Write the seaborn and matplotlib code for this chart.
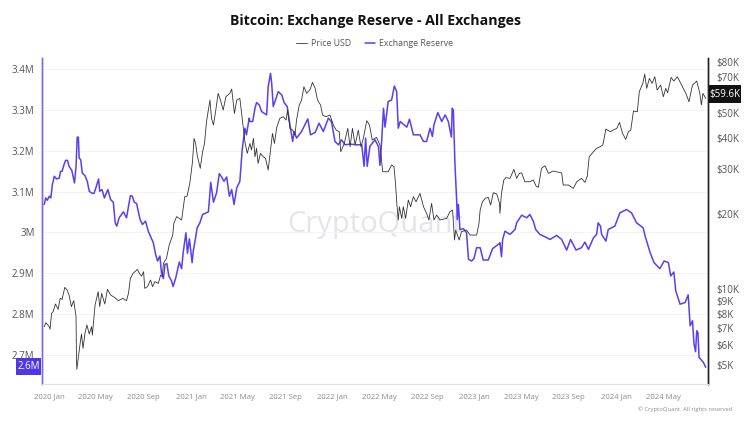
import pandas as pd
import seaborn as sns
import matplotlib.pyplot as plt
import matplotlib.dates as mdates
from matplotlib.patches import Rectangle

# days since 2020-01-01 and reserve in millions of BTC
reserve_days = [-12, -8, -4, 1, 5, 9, 14, 20, 27, 30, 34, 39, 43, 48, 52, 59, 66, 70, 73, 76, 78, 82, 86, 93, 99, 104, 110, 116, 121, 128, 131, 137, 143, 152, 159, 166, 171, 175, 181, 192, 200, 210, 215, 220, 226, 235, 241, 249,
                256, 269, 275, 280, 286, 290, 295, 299, 304, 309, 316, 320, 327, 336, 342, 346, 353, 357, 362, 369, 372, 378, 382,
                389, 396, 411, 417, 424, 432, 439, 445, 451, 458, 465, 471, 477, 484, 492, 498, 505, 509, 516,
                518, 525, 531, 535, 542, 548, 561, 565, 571, 574, 578, 591, 600, 606, 614, 621, 628, 632, 638, 651, 667, 674, 686, 696, 707, 720, 728, 737, 746, 754, 763, 776, 793, 806, 812, 816, 820, 827, 840, 849, 853, 857, 862, 866, 874, 883, 890, 896, 900, 905, 922, 929, 939, 956, 965, 973, 982, 988, 992, 1002, 1012, 1021, 1029, 1037, 1039, 1042, 1046, 1051, 1052, 1055, 1059,
                1068, 1076, 1081, 1089, 1095, 1102, 1111, 1119, 1132, 1143, 1161, 1162, 1166, 1169, 1175, 1188, 1201, 1205, 1218, 1231, 1239, 1248, 1254,
                1265, 1278, 1291, 1308, 1321, 1334, 1344, 1358, 1372, 1381, 1390, 1403, 1411, 1415, 1421, 1424, 1435, 1441, 1458, 1471, 1488, 1501, 1514, 1531,
                1536, 1549, 1559, 1574, 1585, 1596, 1602, 1610, 1615, 1626, 1639, 1647, 1652, 1658, 1662, 1666, 1669, 1672, 1675, 1686, 1692]
reserve_m = [3.0683, 3.0845, 3.0788, 3.0886, 3.0845, 3.1170, 3.1374, 3.1309, 3.1333, 3.1496, 3.1496, 3.1658, 3.1764, 3.1764, 3.1618, 3.1520, 3.1211, 3.1618, 3.2333, 3.2333, 3.1821, 3.1780, 3.1455, 3.1390, 3.1252, 3.1008, 3.0967, 3.0951, 3.1089, 3.1309, 3.1008, 3.1049, 3.0845, 3.1049, 3.0805, 3.0740, 3.0235, 3.0154, 3.0358, 3.0504, 3.0358, 3.0902, 3.0886, 3.0740, 3.0707, 3.0317, 3.0195, 3.0276,
             3.0032, 2.9748, 2.9463, 2.9301, 2.9423, 2.9016, 2.8870, 2.9219, 2.9236, 2.8935, 2.8813, 2.8675, 2.8894, 2.9276, 2.9114, 2.9504, 2.9992, 2.9488, 2.9845, 2.9260, 2.9545, 2.9870, 3.0114,
             3.0235, 3.0439, 3.0504, 3.1228, 3.0740, 3.0967, 3.1439, 3.1358, 3.1252, 3.1358, 3.0886, 3.1049, 3.0683, 3.1089, 3.1252, 3.2024, 3.2552, 3.2390, 3.2796,
             3.2715, 3.2715, 3.3040, 3.3179, 3.3122, 3.2959, 3.2878, 3.3569, 3.3894, 3.3650, 3.3081, 3.3447, 3.3366, 3.3179, 3.3081, 3.2634, 3.2227, 3.2471, 3.2309, 3.2471, 3.2780, 3.2390, 3.2447, 3.2674, 3.2471, 3.2796, 3.2715, 3.2227, 3.2146, 3.2268, 3.2146, 3.2162, 3.2146, 3.2146, 3.1618, 3.2309, 3.1618, 3.2105, 3.2268, 3.2105, 3.1642, 3.2187, 3.3040, 3.2577, 3.3203, 3.3244, 3.3585, 3.3447, 3.2552, 3.2715, 3.2577, 3.2772, 3.2390, 3.2390, 3.2227, 3.2227, 3.2552, 3.2349, 3.2634, 3.2935, 3.2715, 3.2878, 3.2715, 3.2333, 3.3040, 3.3000, 3.1699, 3.0683, 3.0317, 3.0683, 3.0073,
             3.0090, 2.9992, 2.9342, 2.9301, 2.9358, 2.9626, 2.9626, 2.9325, 2.9325, 2.9602, 2.9732, 2.9748, 2.9406, 2.9829, 3.0032, 2.9951, 3.0073, 3.0235, 3.0422, 3.0358, 3.0439, 3.0276, 3.0073,
             2.9951, 2.9894, 2.9829, 2.9927, 2.9829, 2.9569, 2.9829, 2.9569, 2.9626, 2.9764, 2.9585, 2.9870, 2.9951, 3.0235, 3.0154, 2.9951, 2.9788, 3.0073, 3.0154, 3.0479, 3.0561, 3.0479, 3.0235, 3.0113,
             2.9910, 2.9504, 2.9260, 2.9114, 2.9301, 2.9260, 2.8935, 2.9032, 2.8569, 2.8244, 2.8284, 2.8471, 2.7715, 2.7837, 2.7268, 2.7081, 2.7593, 2.7553, 2.6943, 2.6821, 2.6699]

# days since 2020-01-01 and price in USD
price_days = [-12, -8, 1, 3, 7, 11, 17, 24, 29, 34, 41, 47, 52, 58, 64, 70, 71, 72, 75, 80, 84, 88, 93, 98, 104, 110, 112, 119, 127, 131, 136, 144, 151, 159, 170, 179, 190, 200, 205, 210, 217, 228, 234, 239, 244, 247, 254, 262, 267, 273, 282, 288, 292, 295, 303, 310, 319,
              322, 329, 336, 342, 350, 356, 363, 370, 374, 378, 382, 387, 390, 396, 401, 406, 415, 419, 424, 430, 436, 442, 449, 456, 466, 471, 478, 484, 492, 501, 505, 511,
              518, 522, 527, 531, 535, 539, 545, 552, 558, 565, 571, 576, 581, 587, 595, 604, 611, 615, 621, 628, 634, 638, 645, 651, 657, 664, 673, 679, 686, 692, 700, 705, 714, 724, 733, 740, 748, 752, 761, 770, 776, 782, 789, 797, 804, 810, 819, 826, 833, 844, 853, 857, 860, 866, 874, 883, 889, 893, 896, 900, 903, 909, 913, 919, 926, 932, 939, 946, 956, 965, 973, 979, 986, 992, 999, 1008, 1025, 1033, 1040,
              1043, 1045, 1048, 1057, 1063, 1076, 1085, 1102, 1108, 1111, 1117, 1124, 1132, 1138, 1145, 1154, 1161,
              1162, 1166, 1172, 1177, 1188, 1198, 1205, 1212, 1218, 1226, 1239, 1248, 1255, 1261, 1269, 1278, 1287, 1299, 1321, 1325, 1338, 1351, 1360, 1372, 1381, 1387, 1392, 1403, 1411, 1420, 1427, 1435, 1446, 1454, 1463, 1470, 1478, 1486, 1493, 1499, 1506, 1516, 1521, 1530, 1535, 1540, 1547, 1554, 1561, 1567, 1576, 1583, 1589, 1594, 1603, 1610, 1619, 1630, 1641, 1649, 1658, 1669, 1677, 1681, 1685, 1692]
price_usd = [7100, 7366, 7100, 6930, 8021, 8148, 8736, 8320, 9200, 9115, 10175, 9930, 9486, 8527, 9008, 7780, 5396, 4806, 5236, 6005, 6640, 5824, 6680, 7210, 6640, 7100, 6578, 8657, 9781, 8527, 9633, 8736, 9992, 9486, 9258, 9008, 9200, 9008, 9633, 11050, 11567, 11997, 11497, 11287, 11745, 10083, 10238, 10883, 10238, 10718, 10556, 11392, 11220, 12675, 13268, 14990, 16427,
             18280, 19430, 19135, 18850, 23320, 23465, 26350, 32130, 39770, 37990, 34150, 31640, 30230, 35210, 37990, 46330, 56490, 47770, 44940, 51540, 60040, 56490, 51540, 58240, 60040, 62470, 50000, 56490, 57350, 43590, 38580, 34670,
             37990, 35750, 39770, 33630, 36300, 31640, 34670, 33630, 33130, 29770, 35750, 41630, 37990, 43990, 47770, 48500, 47030, 51540, 43590, 42930, 41010, 47030, 53960, 56490, 63810, 60040, 62270, 66390, 62850, 56490, 53960, 49240, 48500, 49240, 44940, 42930, 42280, 35210, 37990, 43590, 36850, 43590, 37420, 42930, 36850, 39770, 46760, 44940, 39180, 40140, 37420, 32620, 29320, 29320, 29320, 31170, 30700, 26350, 22280, 18850, 21290, 19135, 21290, 19135, 22630, 21290, 23320, 22280, 24050, 21290, 20030, 18850, 21950, 18850, 19720, 18850, 19135, 20330, 20650,
             17460, 15690, 17190, 15690, 16930, 17190, 16420, 16420, 18270, 20640, 22280, 22970, 23180, 21610, 24190, 23900, 21940,
             20030, 24050, 27180, 27770, 27600, 29950, 27600, 28880, 29000, 26750, 26750, 27180, 25720, 25400, 30230, 30970, 28880, 29500, 29000, 25960, 25960, 25170, 26750, 27600, 26590, 28180, 33630, 35210, 36300, 36850, 37420, 43320, 42280, 42930, 43590, 46040, 41630, 39410, 42280, 42930, 51080, 50770, 60960, 65790, 71650, 62850, 68860, 65790, 69930, 61900, 64790, 58240, 62850, 60400, 69510, 67200, 69930, 64790, 60040, 55630, 64790, 67200, 60040, 53960, 60040, 57350]

reserve_ticks = [2.7, 2.8, 2.9, 3.0, 3.1, 3.2, 3.3, 3.4]
reserve_tick_labels = ['2.7M', '2.8M', '2.9M', '3M', '3.1M', '3.2M', '3.3M', '3.4M']
price_ticks = [5000, 6000, 7000, 8000, 9000, 10000, 20000, 30000, 40000, 50000, 70000, 80000]
price_tick_labels = ['$5K', '$6K', '$7K', '$8K', '$9K', '$10K', '$20K', '$30K', '$40K', '$50K', '$70K', '$80K']
month_ticks = ['2020-01-01', '2020-05-01', '2020-09-01', '2021-01-01', '2021-05-01', '2021-09-01', '2022-01-01',
               '2022-05-01', '2022-09-01', '2023-01-01', '2023-05-01', '2023-09-01', '2024-01-01', '2024-05-01']

PURPLE = '#5a3ff0'
BLACK = '#333333'


def to_dates(days):
    return pd.Timestamp('2020-01-01') + pd.to_timedelta(days, unit='D')


def tag(fig, x0, y0, x1, y1, text, color):
    # value tag drawn in pixel coordinates of the 750x422 figure
    fig.add_artist(Rectangle((x0 / 750, 1 - y1 / 422), (x1 - x0) / 750, (y1 - y0) / 422,
                             transform=fig.transFigure, fc=color, ec='none', zorder=5))
    fig.text((x0 + x1) / 2 / 750, 1 - (y0 + y1) / 2 / 422, text, ha='center', va='center',
             fontsize=7.0, color='white', zorder=6)


def main():
    sns.set_theme(style='white')
    plt.rcParams['font.family'] = ['Open Sans', 'DejaVu Sans']

    reserve_df = pd.DataFrame({'date': to_dates(reserve_days), 'reserve': reserve_m})
    price_df = pd.DataFrame({'date': to_dates(price_days), 'price': price_usd})

    fig = plt.figure(figsize=(7.5, 4.22), dpi=100)
    ax = fig.add_axes([41.5 / 750, 1 - 384 / 422, (708 - 41.5) / 750, (384 - 58) / 422])

    sns.lineplot(data=reserve_df, x='date', y='reserve', ax=ax, color=PURPLE, lw=1.1,
                 estimator=None, sort=False, label='Exchange Reserve', legend=False)
    ax.set_ylim(2.629, 3.427)
    ax.set_yticks(reserve_ticks)
    ax.set_yticklabels(reserve_tick_labels)
    ax.grid(axis='y', color='#f3f3f6', lw=0.7)
    ax.set_axisbelow(True)

    # watermark
    ax.text(0.5, 0.49, 'CryptoQuant', transform=ax.transAxes, ha='center', va='center',
            fontsize=21, color='#e4e4ec', zorder=0)

    ax2 = ax.twinx()
    sns.lineplot(data=price_df, x='date', y='price', ax=ax2, color=BLACK, lw=0.6,
                 estimator=None, sort=False, label='Price USD', legend=False)
    ax2.set_yscale('log')
    ax2.set_ylim(4202, 83000)
    ax2.set_yticks(price_ticks)
    ax2.set_yticklabels(price_tick_labels)
    ax2.minorticks_off()
    ax2.grid(False)

    ax.set_xlim(pd.Timestamp('2020-01-01') - pd.Timedelta(days=19), pd.Timestamp('2020-01-01') + pd.Timedelta(days=1698))
    ax.set_xticks(pd.to_datetime(month_ticks))
    ax.xaxis.set_major_formatter(mdates.DateFormatter('%Y %b'))
    ax.set_xlabel('')
    ax.set_ylabel('')
    ax2.set_ylabel('')

    ax.tick_params(axis='x', length=3, width=0.6, color='#dfe1e6', labelcolor='#8c8c8c', labelsize=5.6, pad=4)
    ax.tick_params(axis='y', length=0, labelcolor='#555555', labelsize=7.0, pad=5)
    ax2.tick_params(axis='y', length=0, labelcolor='#555555', labelsize=7.0, pad=6)

    for a in (ax, ax2):
        a.spines['top'].set_visible(False)
        a.spines['left'].set_color('#7b66f2')
        a.spines['left'].set_linewidth(1.0)
        a.spines['right'].set_color('#222222')
        a.spines['right'].set_linewidth(1.0)
        a.spines['bottom'].set_color('#dfe1e6')
        a.spines['bottom'].set_linewidth(0.8)

    # current value tags
    tag(fig, 16, 358, 41, 375, '2.6M', '#4f37e6')
    tag(fig, 709, 85, 741, 103, '$59.6K', '#111111')

    fig.text(0.5, 1 - 21 / 422, 'Bitcoin: Exchange Reserve - All Exchanges', ha='center', va='center',
             fontsize=10.2, fontweight='bold', color='#111111')

    handles = ax2.get_lines() + ax.get_lines()
    fig.legend(handles=handles, labels=[h.get_label() for h in handles], loc='center', ncol=2,
               bbox_to_anchor=(0.5, 1 - 43.5 / 422), frameon=False, fontsize=6.3, labelcolor='#555555',
               handlelength=1.2, handletextpad=0.5, columnspacing=1.5, borderpad=0)

    fig.text(732 / 750, 1 - 409 / 422, '© CryptoQuant. All rights reserved', ha='right', va='center',
             fontsize=4.2, color='#8c8c8c')

    fig.savefig('out.png', dpi=100)


if __name__ == "__main__":
    main()
